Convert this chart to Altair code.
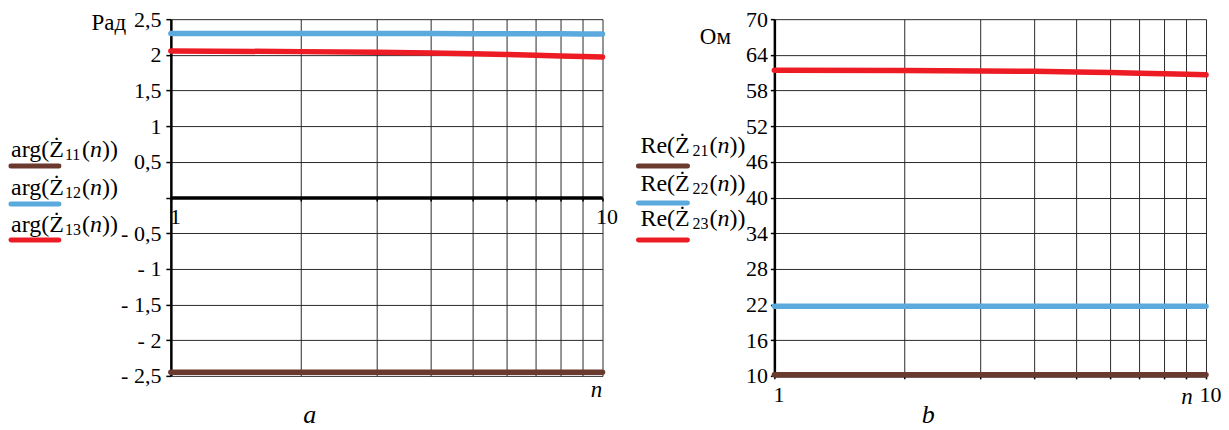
import altair as alt
import pandas as pd

# ---------------- data ----------------
n_vals = [1, 2, 3, 4, 5, 6, 7, 8, 9, 10]

# panel a: arguments, rad
arg_z11 = [-2.45, -2.45, -2.45, -2.45, -2.45, -2.45, -2.45, -2.45, -2.45, -2.45]
arg_z12 = [2.30, 2.30, 2.299, 2.298, 2.297, 2.296, 2.295, 2.294, 2.293, 2.292]
arg_z13 = [2.055, 2.045, 2.035, 2.025, 2.015, 2.005, 1.995, 1.985, 1.978, 1.97]

# panel b: real parts, Ohm
re_z21 = [10.2, 10.2, 10.2, 10.2, 10.2, 10.2, 10.2, 10.2, 10.2, 10.2]
re_z22 = [21.7, 21.7, 21.7, 21.7, 21.7, 21.7, 21.7, 21.7, 21.7, 21.7]
re_z23 = [61.4, 61.38, 61.3, 61.23, 61.13, 61.02, 60.91, 60.81, 60.73, 60.63]

series_a = ["arg(Ż11(n))", "arg(Ż12(n))", "arg(Ż13(n))"]
series_b = ["Re(Ż21(n))", "Re(Ż22(n))", "Re(Ż23(n))"]
prefix_a = "arg(Ż"
prefix_b = "Re(Ż"
subs_a = ["11", "12", "13"]
subs_b = ["21", "22", "23"]
colors = ["#6b3a2e", "#5aaade", "#ed1c24"]

ticks_a = [-2.5, -2, -1.5, -1, -0.5, 0, 0.5, 1, 1.5, 2, 2.5]
ticks_b = [10, 16, 22, 28, 34, 40, 46, 52, 58, 64, 70]

FONT = "Liberation Serif"
W, H = 432, 357
LAB = 22


def long_df(series, labels):
    rows = []
    for lab, vals in zip(labels, series):
        for n, v in zip(n_vals, vals):
            rows.append({"n": n, "value": v, "series": lab})
    return pd.DataFrame(rows)


def text_layer(txt, x, y, size=22, style="normal", align="left", baseline="middle"):
    return alt.Chart(pd.DataFrame({"t": [txt]})).mark_text(
        font=FONT, fontSize=size, fontStyle=style, align=align,
        baseline=baseline, color="black"
    ).encode(x=alt.value(x), y=alt.value(y), text="t:N")


def legend_layers(prefix, subs, x0, pre_w, ty_list, lx1, lx2, ly_list):
    out = []
    for sub, col, ty, ly in zip(subs, colors, ty_list, ly_list):
        base = ty + 5
        out.append(text_layer(prefix, x0, base, size=24, baseline="alphabetic"))
        out.append(text_layer(sub, x0 + pre_w + 1, base + 3, size=16, baseline="alphabetic"))
        out.append(text_layer("(", x0 + pre_w + 18, base, size=24, baseline="alphabetic"))
        out.append(text_layer("n", x0 + pre_w + 26, base, size=24, style="italic", baseline="alphabetic"))
        out.append(text_layer("))", x0 + pre_w + 38, base, size=24, baseline="alphabetic"))
        out.append(
            alt.Chart(pd.DataFrame({"s": [sub]})).mark_rule(
                color=col, strokeWidth=5, strokeCap="round"
            ).encode(x=alt.value(lx1), x2=alt.value(lx2), y=alt.value(ly))
        )
    return out


def panel(df, labels, ydom, yticks, ylabel_expr, xaxis_offset, x_lab_pad,
          unit, unit_xy, legend_args, n_xy, caption, cap_xy, ytick_size, ylab_pad):
    color_scale = alt.Scale(domain=labels, range=colors)
    xaxis = alt.Axis(
        values=n_vals, tickCount=20, title=None, grid=True, gridColor="#2a2a2a", gridWidth=1,
        domainColor="black", domainWidth=2.5, tickColor="black", tickSize=3,
        tickWidth=1.5, labelFont=FONT, labelFontSize=LAB, labelColor="black",
        labelPadding=x_lab_pad, labelOffset=4, labelFlush=False, labelOverlap=False,
        labelExpr="(datum.value == 1 || datum.value == 10) ? datum.label : ''",
        offset=xaxis_offset,
    )
    yaxis = alt.Axis(
        values=yticks, tickCount=20, title=None, grid=True, gridColor="#2a2a2a", gridWidth=1,
        domainColor="black", domainWidth=2.5, tickColor="black", tickSize=ytick_size,
        tickWidth=1.5, labelFont=FONT, labelFontSize=LAB, labelColor="black",
        labelPadding=ylab_pad, labelExpr=ylabel_expr, labelOverlap=False,
    )
    lines = alt.Chart(df).mark_line(strokeWidth=5.5, strokeCap="round").encode(
        x=alt.X("n:Q", scale=alt.Scale(type="log", domain=[1, 10], nice=False), axis=xaxis),
        y=alt.Y("value:Q", scale=alt.Scale(domain=ydom, nice=False, zero=False), axis=yaxis),
        color=alt.Color("series:N", scale=color_scale, legend=None),
        order="n:Q",
    )
    layers = [lines]
    layers += legend_layers(*legend_args)
    layers.append(text_layer(unit, unit_xy[0], unit_xy[1], size=23, align="center"))
    layers.append(text_layer("n", n_xy[0], n_xy[1], size=23, style="italic", align="center"))
    layers.append(text_layer(caption, cap_xy[0], cap_xy[1], size=26, style="italic", align="center"))
    return layers


df_a = long_df([arg_z11, arg_z12, arg_z13], series_a)
df_b = long_df([re_z21, re_z22, re_z23], series_b)

expr_a = ("datum.value == 0 ? '' : (datum.value < 0 ? '- ' : '') + "
          "replace(format(abs(datum.value), '.1~f'), '.', ',')")
expr_b = "datum.label"

layers_a = panel(
    df_a, series_a, [-2.5, 2.5], ticks_a, expr_a, -178, 6,
    "Рад", (-62, 4),
    (prefix_a, subs_a, -160, 53, [133, 171, 208], -160, -112, [147, 185, 221]),
    (426, 371), "a", (139, 396), 5, 5,
)
zero_rule = alt.Chart(pd.DataFrame({"y": [0]})).mark_rule(
    color="black", strokeWidth=2.5
).encode(y=alt.Y("y:Q"))
left = alt.layer(*(layers_a[:1] + [zero_rule] + layers_a[1:])).properties(width=W, height=H)

layers_b = panel(
    df_b, series_b, [10, 70], ticks_b, expr_b, 0, 6,
    "Ом", (-59, 18),
    (prefix_b, subs_b, -134, 51, [129, 167, 202], -136, -87, [147, 184, 221]),
    (413, 378), "b", (154, 396), 4, 3,
)
right = alt.layer(*layers_b).properties(width=W, height=H)

chart = alt.hconcat(left, right, spacing=18).configure(
    padding={"left": 0, "top": 0, "right": 0, "bottom": 0}
).configure_view(stroke=None)

chart.save("out.html", embed_options={"renderer": "svg", "actions": False})
